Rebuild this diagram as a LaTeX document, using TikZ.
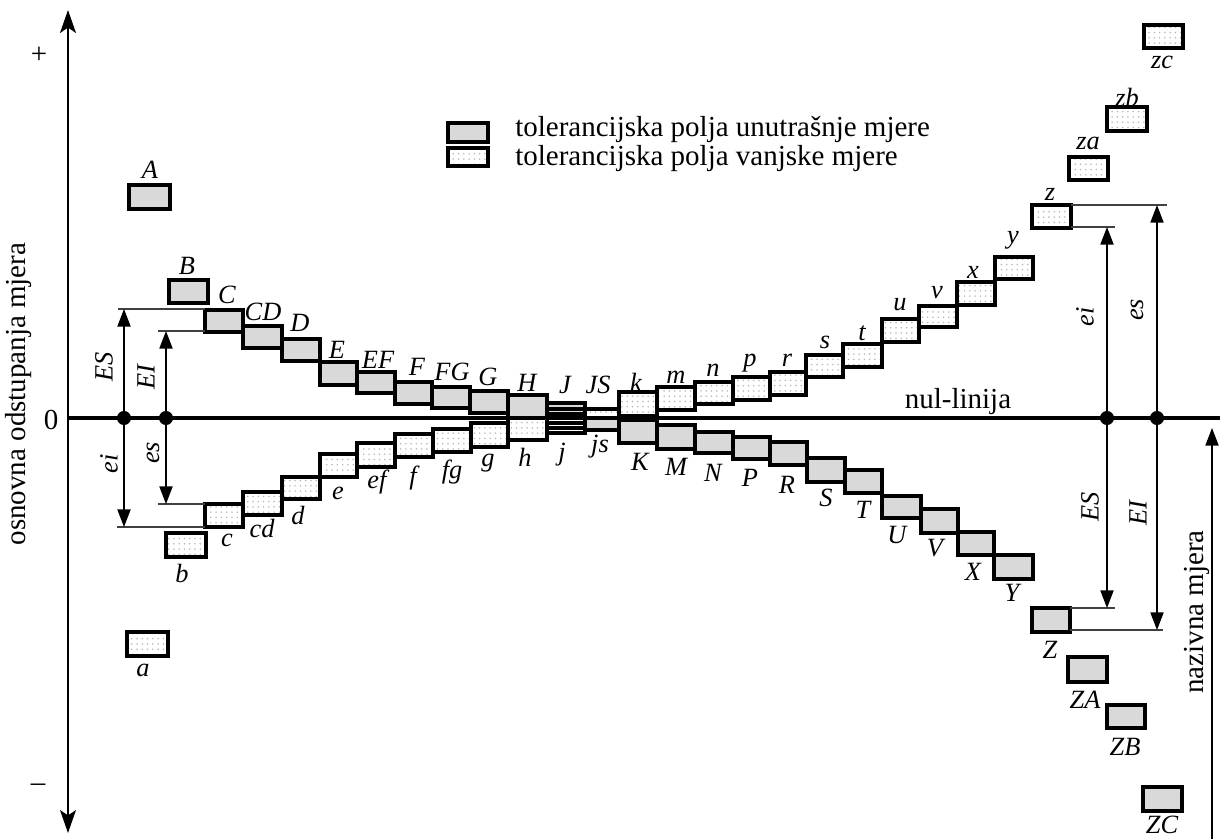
\documentclass[tikz,border=0pt]{standalone}
\usepackage{fontspec}
\setmainfont{Liberation Serif}
\usetikzlibrary{arrows.meta,patterns}
\begin{document}
\begin{tikzpicture}[x=0.02cm,y=-0.02cm,
  hole/.style={draw=black,line width=1.9pt,fill=gray!30},
  shaft/.style={draw=black,line width=1.9pt,preaction={fill=white},pattern=dots,pattern color=gray!55},
  holefill/.style={fill=gray!30},
  shaftfill/.style={preaction={fill=white},pattern=dots,pattern color=gray!55},
  outline/.style={draw=black,line width=1.9pt},
  lab/.style={font=\fontsize{15}{15}\selectfont\itshape,inner sep=0pt},
  dimlab/.style={lab,rotate=90},
  big/.style={font=\fontsize{16.5}{18}\selectfont,inner sep=0pt},
  refline/.style={line width=0.6pt,draw=black!75},
  dimarrow/.style={line width=0.7pt,-{Triangle[length=10pt,width=7.5pt]}},
  axisline/.style={line width=1.6pt,{Stealth[length=13pt,width=9pt,inset=3pt]}-{Stealth[length=13pt,width=9pt,inset=3pt]}},
  dot/.style={circle,fill=black,inner sep=0pt,minimum size=8pt}
]
\useasboundingbox (0,0) rectangle (1220,839);

% hole tolerance fields (grey)
\foreach \n/\a/\b/\c/\d in {A/129/185/170/209, B/169/280/208/303, C/205/310/243/332,
  CD/243/326/282/348, D/282/339/320/361, E/320/362/357/385, EF/357/372/395/393,
  F/395/382/432/404, FG/432/387/470/408, G/470/391/508/413, H/508/395/547/418,
  K/619/420/657/443, M/657/425/695/449, N/695/432/733/453, P/733/437/770/459,
  R/770/442/807/465, S/807/458/845/482, T/845/470/882/493, U/882/496/921/518,
  V/921/509/958/533, X/958/532/994/555, Y/994/555/1033/579, Z/1032/608/1070/632,
  ZA/1068/657/1107/682, ZB/1107/705/1145/728, ZC/1143/787/1182/811}
  \draw[hole] (\a,\b) rectangle (\c,\d);

% shaft tolerance fields (dotted)
\foreach \n/\a/\b/\c/\d in {a/127/632/168/656, b/166/533/206/557, c/205/504/243/527,
  cd/243/492/282/515, d/282/477/320/499, e/320/454/357/477, ef/357/443/395/467,
  f/395/434/433/457, fg/433/429/471/452, g/471/423/508/447, h/508/418/547/440,
  k/619/392/657/416, m/657/387/695/410, n/695/382/733/404, p/733/377/770/400,
  r/770/372/806/395, s/806/355/843/377, t/843/344/882/367, u/882/319/919/342,
  v/919/306/957/327, x/957/282/995/305, y/995/257/1033/279, z/1032/205/1071/228,
  za/1069/157/1108/180, zb/1107/107/1147/131, zc/1144/25/1183/48}
  \draw[shaft] (\a,\b) rectangle (\c,\d);

% J / j and JS / js (straddling the zero line)
\fill[holefill] (547,403) rectangle (585,423);
\fill[shaftfill] (547,414) rectangle (585,433);
\draw[outline] (547,403) rectangle (585,423);
\draw[outline] (547,414) rectangle (585,433);
\draw[outline] (547,409) -- (585,409);
\draw[outline] (547,428) -- (585,428);
\fill[shaftfill] (585,409) rectangle (619,418);
\fill[holefill] (585,418) rectangle (619,430);
\draw[outline] (585,409) rectangle (619,430);

% legend
\draw[hole] (448,123) rectangle (488,142);
\draw[shaft] (448,148) rectangle (488,166);
\node[font=\fontsize{16.5}{14.2}\selectfont,inner sep=0pt,anchor=west,align=left] (legend) at (515,144)
  {tolerancijska polja unutrašnje mjere\\tolerancijska polja vanjske mjere};

% axes
\coordinate (axtop) at (68,10);
\coordinate (axbot) at (68,833);
\draw[axisline] (axbot) -- (axtop);
\coordinate (n0) at (68,418);
\coordinate (n1) at (1220,418);
\draw[line width=1.9pt] (n0) -- (n1);
\node[big] (plus) at (39,55) {+};
\node[big] (minus) at (38,788) {\textendash};
\node[big] (zero) at (51,420) {0};
\node[big,rotate=90] (ylab) at (19,394) {osnovna odstupanja mjera};
\node[big] (nul) at (958,402) {nul-linija};

% nominal size arrow
\coordinate (nzb) at (1212,839);
\coordinate (nzt) at (1212,428);
\draw[dimarrow] (nzb) -- (nzt);
\node[big,rotate=90] (nazlab) at (1197,612) {nazivna mjera};

% dots on zero line
\node[dot] (dL1) at (124,418) {};
\node[dot] (dL2) at (166,418) {};
\node[dot] (dR1) at (1107,418) {};
\node[dot] (dR2) at (1157,418) {};

% left dimensions
\coordinate (ESl) at (124,309);
\coordinate (EIl) at (166,331);
\coordinate (eil) at (124,527);
\coordinate (esl) at (166,504);
\draw[refline] (118,309) -- (205,309);
\draw[refline] (158,331) -- (205,331);
\draw[refline] (117,527) -- (205,527);
\draw[refline] (158,504) -- (205,504);
\draw[dimarrow] (dL1.center) -- (ESl);
\draw[dimarrow] (dL2.center) -- (EIl);
\draw[dimarrow] (dL1.center) -- (eil);
\draw[dimarrow] (dL2.center) -- (esl);
\node[dimlab] (lESl) at (104,367) {ES};
\node[dimlab] (lEIl) at (146,377) {EI};
\node[dimlab] (leil) at (109,464) {ei};
\node[dimlab] (lesl) at (153,453) {es};

% right dimensions
\coordinate (eir) at (1107,227);
\coordinate (esr) at (1157,205);
\coordinate (ESr) at (1107,608);
\coordinate (EIr) at (1157,630);
\draw[refline] (1071,227) -- (1115,227);
\draw[refline] (1071,205) -- (1167,205);
\draw[refline] (1070,608) -- (1115,608);
\draw[refline] (1070,630) -- (1163,630);
\draw[dimarrow] (dR1.center) -- (eir);
\draw[dimarrow] (dR2.center) -- (esr);
\draw[dimarrow] (dR1.center) -- (ESr);
\draw[dimarrow] (dR2.center) -- (EIr);
\node[dimlab] (leir) at (1085,317) {ei};
\node[dimlab] (lesr) at (1137,310) {es};
\node[dimlab] (lESr) at (1090,507) {ES};
\node[dimlab] (lEIr) at (1138,513) {EI};

% field labels
\foreach \t/\x/\y in {A/150/170, B/187/266, C/227/295, CD/263/312, D/300/323,
  E/337/350, EF/378/360, F/417/367, FG/452/372, G/488/377, H/527/383, J/565/385,
  JS/598/385, K/640/462, M/676/467, N/713/473, P/750/478, R/787/485, S/826/498,
  T/863/510, U/897/535, V/935/548, X/973/572, Y/1012/593, Z/1050/650,
  ZA/1085/700, ZB/1125/747, ZC/1162/825}
  \node[lab] (L\t) at (\x,\y) {\t};
\foreach \t/\x/\y in {a/143/670, b/182/573, c/227/540, cd/262/528, d/298/515,
  e/338/493, ef/377/482, f/413/478, fg/452/472, g/488/463, h/525/457, j/562/455,
  js/600/447, k/636/382, m/676/377, n/713/370, p/750/363, r/787/360, s/825/342,
  t/862/333, u/900/305, v/937/293, x/973/272, y/1013/240, z/1050/194,
  za/1088/143, zb/1127/97, zc/1162/62}
  \node[lab] (l\t) at (\x,\y) {\t};
\end{tikzpicture}
\end{document}
